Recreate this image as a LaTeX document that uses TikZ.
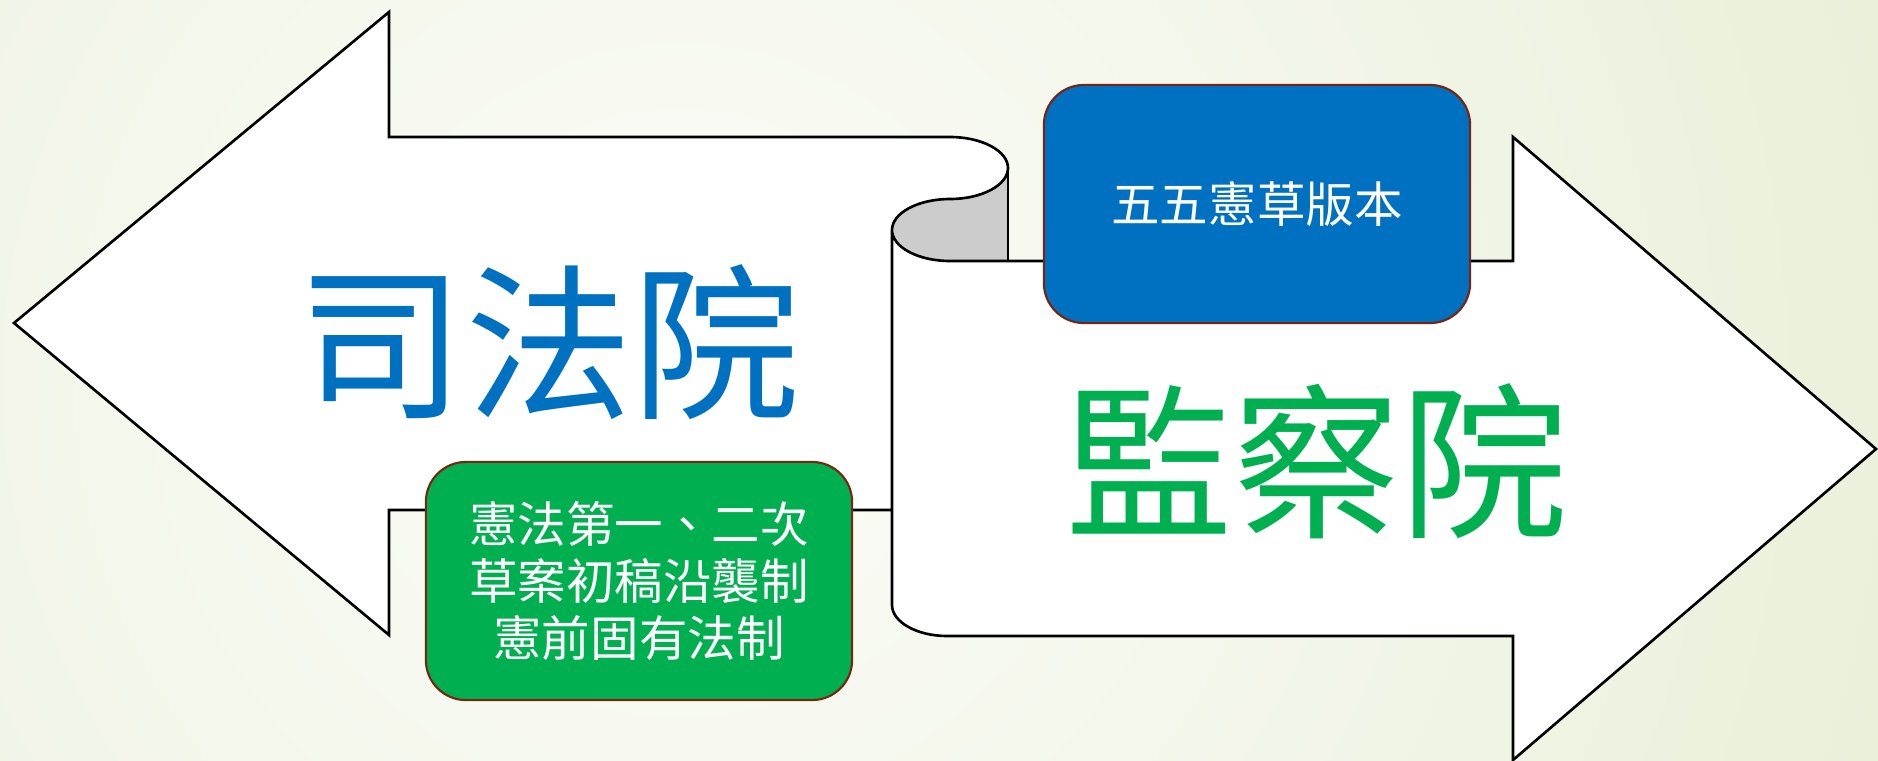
\documentclass[tikz,border=0pt]{standalone}
\usepackage{fontspec}
\newfontfamily\cjkfont{Noto Sans CJK TC}
\usetikzlibrary{positioning}

\definecolor{boxblue}{HTML}{0070C0}
\definecolor{boxgreen}{HTML}{00B050}
\definecolor{boxrim}{RGB}{122,36,16}
\definecolor{bgedge}{HTML}{D9E3BD}
\definecolor{bgcore}{HTML}{FCFDF9}
\definecolor{curlgray}{HTML}{CCCCCC}

\begin{document}
\begin{tikzpicture}[
        x=0.01cm, y=-0.01cm,
        every node/.style={font=\cjkfont},
        outline/.style={draw=black, line width=0.75pt, line join=miter},
        infobox/.style={rectangle, rounded corners=0.4cm, draw=boxrim, line width=0.6pt,
            minimum width=4.26cm, minimum height=2.38cm, text=white, align=center,
            font=\cjkfont\fontsize{13.8}{16.2}\selectfont},
        bigword/.style={inner sep=0pt, font=\cjkfont\fontsize{47.6}{52}\selectfont}
    ]
        \useasboundingbox (0,0) rectangle (1878,760);

        % background
        \begin{scope}
            \clip (0,0) rectangle (1878,760);
            \shade[inner color=bgcore, outer color=bgedge] (680,380) circle (2500);
        \end{scope}

        % left arrow body
        \fill[white] (950,137) .. controls (982,137) and (1008,151) .. (1008,168)
            .. controls (1008,185) and (982,199) .. (950,199)
            .. controls (918,199) and (892,213) .. (892,230)
            -- (892,510) -- (389,510) -- (389,635) -- (14,323) -- (389,12) -- (389,137) -- cycle;
        % right arrow body
        \fill[white] (892,230) -- (892,605) .. controls (892,622) and (917,636) .. (947,636)
            -- (1513,636) -- (1513,760) -- (1876,449) -- (1513,137) -- (1513,261) -- (950,261)
            .. controls (918,261) and (892,247) .. (892,230) -- cycle;
        % curl underside
        \fill[curlgray] (950,199) .. controls (918,199) and (892,213) .. (892,230)
            .. controls (892,247) and (918,261) .. (950,261)
            -- (1008,261) -- (1008,168) .. controls (1008,185) and (982,199) .. (950,199) -- cycle;

        % outlines
        \draw[outline] (892,510) -- (389,510) -- (389,635) -- (14,323) -- (389,12) -- (389,137) -- (950,137)
            .. controls (982,137) and (1008,151) .. (1008,168)
            .. controls (1008,185) and (982,199) .. (950,199)
            .. controls (918,199) and (892,213) .. (892,230)
            -- (892,605) .. controls (892,622) and (917,636) .. (947,636)
            -- (1513,636) -- (1513,760) -- (1876,449) -- (1513,137) -- (1513,261) -- (950,261)
            .. controls (918,261) and (892,247) .. (892,230);
        \draw[outline] (1008,168) -- (1008,261);

        % boxes
        \node[infobox, fill=boxblue] (draftbox) at (1257,204) {五五憲草版本};
        \node[infobox, fill=boxgreen] (origbox) at (639,581) {憲法第一、二次\\草案初稿沿襲制\\憲前固有法制};

        % big labels
        \node[bigword, text=boxblue] (judicial) at (549,342) {司法院};
        \node[bigword, text=boxgreen] (control) at (1317,461) {監察院};
    \end{tikzpicture}
\end{document}
